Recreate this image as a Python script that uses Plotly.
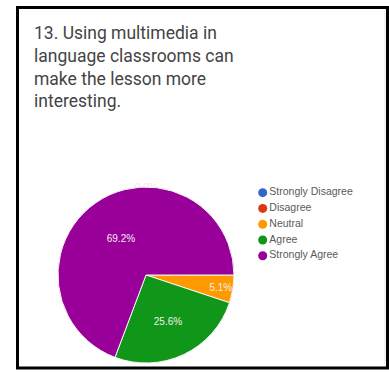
import plotly.graph_objects as go

categories = ["Strongly Disagree", "Disagree", "Neutral", "Agree", "Strongly Agree"]
values = [0, 0, 5.1, 25.6, 69.2]
colors = ["#3366cc", "#dc3912", "#ff9900", "#109618", "#990099"]
title_lines = ["13. Using multimedia in", "language classrooms can",
               "make the lesson more", "interesting."]

W, H = 389, 373

def px(x):
    return x / W

def py(y):
    return 1 - y / H

# pie geometry (pixels)
cx, cy, r = 146, 275, 88

fig = go.Figure()

fig.add_trace(go.Pie(
    labels=categories,
    values=values,
    sort=False,
    direction="clockwise",
    rotation=90,
    marker=dict(colors=colors, line=dict(color="#f4f4f4", width=1)),
    texttemplate="%{value:.1f}%",
    textposition="inside",
    insidetextorientation="horizontal",
    textfont=dict(family="Liberation Sans, Arial", size=10, color="#f3eef3"),
    showlegend=False,
    hoverinfo="label+percent",
    domain=dict(x=[px(cx - r), px(cx + r)], y=[py(cy + r), py(cy - r)]),
))

# legend drawn as markers on a hidden category axis
fig.add_trace(go.Scatter(
    x=[0] * len(categories),
    y=categories,
    mode="markers+text",
    marker=dict(color=colors, size=9),
    text=categories,
    textposition="middle right",
    textfont=dict(family="Liberation Sans, Arial", size=10.5, color="#5a5a5a"),
    cliponaxis=False,
    showlegend=False,
    hoverinfo="skip",
))

fig.update_layout(
    width=W, height=H,
    margin=dict(l=0, r=0, t=0, b=0),
    paper_bgcolor="white",
    plot_bgcolor="rgba(0,0,0,0)",
    uniformtext=dict(minsize=10, mode="show"),
    xaxis=dict(visible=False, range=[-1, 1], domain=[px(252.7), px(272.7)], fixedrange=True),
    yaxis=dict(visible=False, type="category", categoryorder="array", categoryarray=categories,
               range=[4.5, -0.5], domain=[py(263.6), py(184.8)], fixedrange=True),
    annotations=[dict(
        text="<br>".join(title_lines),
        xref="paper", yref="paper",
        x=px(32), y=py(21), xanchor="left", yanchor="top",
        align="left", showarrow=False,
        font=dict(family="Roboto, Arial", size=17.5, color="#444444"),
    )],
    shapes=[
        dict(type="line", xref="paper", yref="paper",
             x0=px(385), x1=px(385), y0=py(366), y1=py(10),
             line=dict(color="#e6e6e6", width=1)),
        dict(type="rect", xref="paper", yref="paper",
             x0=px(17.5), x1=px(387.5), y0=py(368), y1=py(7.5),
             line=dict(color="black", width=3)),
    ],
)

fig.write_html(
    "out.html",
    config={"displayModeBar": False},
    post_script="document.body.style.margin='0';document.body.style.overflow='hidden';",
)
